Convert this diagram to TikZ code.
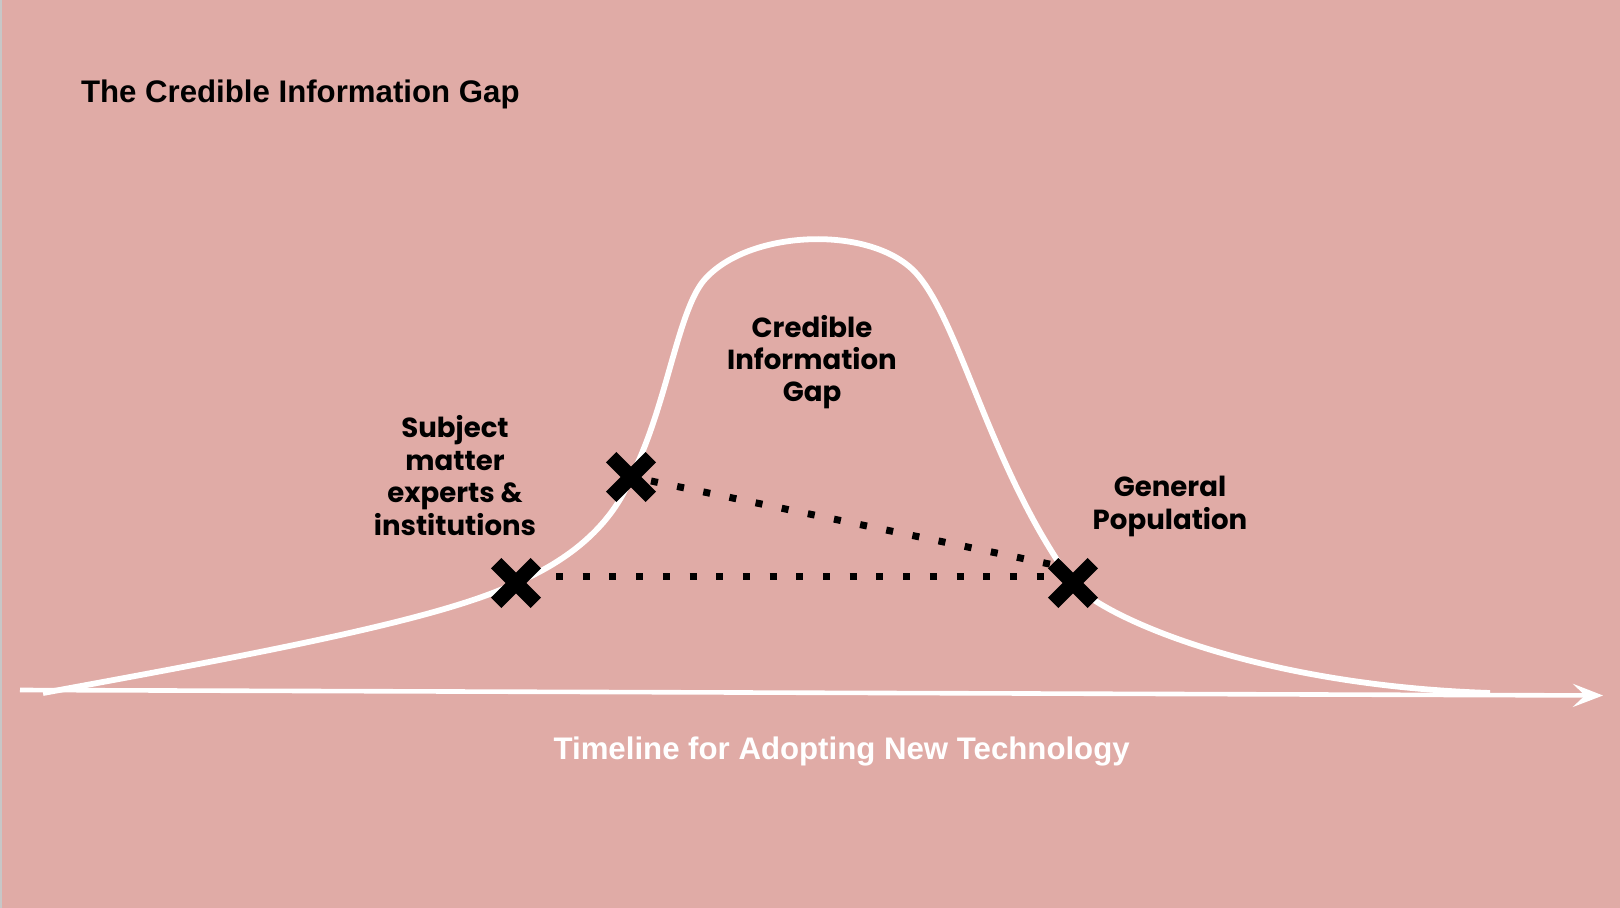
\documentclass[tikz,border=0pt]{standalone}
\usepackage{fontspec}
\setmainfont{Liberation Sans}
\newfontfamily\labelfont{Poppins}
\usetikzlibrary{arrows.meta,shapes.misc}
\definecolor{bgpink}{RGB}{224,171,166}
\begin{document}
\begin{tikzpicture}[x=0.5pt,y=-0.5pt,
  curveline/.style={white,line width=2.9pt},
  axisline/.style={white,line width=2.3pt,-{Stealth[length=15pt,width=11.5pt,inset=6pt]}},
  xmark/.style={cross out,draw=black,line width=7.4pt,minimum size=19.8pt,inner sep=0pt,outer sep=0pt},
  dotline/.style={black,line width=3.5pt,dash pattern=on 3.5pt off 9.85pt},
  lbl/.style={font=\labelfont\bfseries\fontsize{13.8}{16.2}\selectfont,align=center,text=black},
  heading/.style={font=\bfseries\fontsize{15.6}{18}\selectfont}]
\useasboundingbox (0,0) rectangle (1620,908);
\fill[bgpink] (0,0) rectangle (1620,908);
\fill[black!22] (0,0) rectangle (2,908);
% coordinates
\coordinate (axs) at (20,690);
\coordinate (axe) at (1603,695.5);
\coordinate (cs) at (43,693);
\coordinate (ce) at (1490,693);
\coordinate (p1) at (516,583);
\coordinate (p2) at (631,477);
\coordinate (p3) at (1073,583);
\coordinate (lsh) at (707,277);
\coordinate (rsh) at (915,272);
% axis
\draw[axisline] (axs) -- (axe);
% curve
\draw[curveline] (cs) .. controls (250,655) and (440,620) .. (p1)
  .. controls (570,560) and (612,525) .. (p2)
  .. controls (668,405) and (678,305) .. (lsh)
  .. controls (752,230) and (870,225) .. (rsh)
  .. controls (960,320) and (990,470) .. (p3)
  .. controls (1100,615) and (1250,685) .. (ce);
% marks
\node[xmark] (x1) at (p1) {};
\node[xmark] (x2) at (p2) {};
\node[xmark] (x3) at (p3) {};
% dotted connectors
\draw[dotline] ([xshift=20pt,yshift=3.5pt]x1.center) -- ([xshift=-13pt,yshift=3.5pt]x3.center);
\draw[dotline] ([xshift=10pt,yshift=-2pt]x2.center) -- ([xshift=-9.5pt,yshift=9pt]x3.center);
% labels (base = baseline of the last line)
\node[lbl,anchor=base] (sme) at (455,535) {Subject\\matter\\experts \&\\institutions};
\node[lbl,anchor=base] (gap) at (812,402) {Credible\\Information\\Gap};
\node[lbl,anchor=base] (gen) at (1170,529) {General\\Population};
\node[heading,anchor=base west,inner sep=0pt] (title) at (80.6,103) {The Credible Information Gap};
\node[heading,text=white,anchor=base,inner sep=0pt] (timeline) at (841.6,759) {Timeline for Adopting New Technology};
\end{tikzpicture}
\end{document}
